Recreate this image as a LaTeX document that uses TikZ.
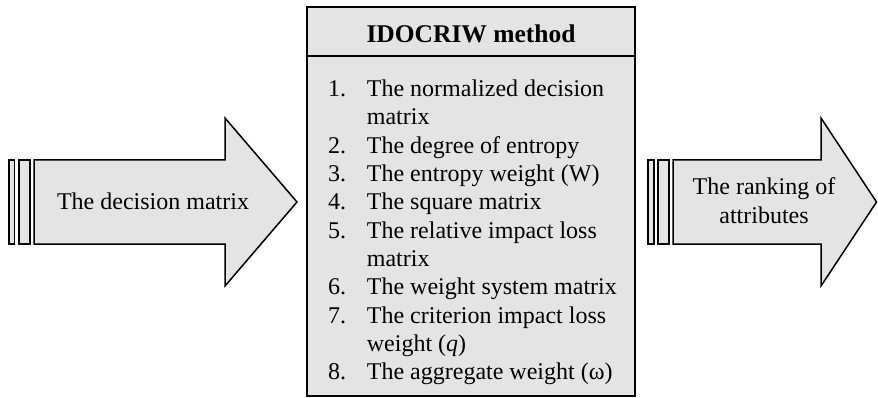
\documentclass[tikz,border=0pt]{standalone}
\usepackage{fontspec}
\setmainfont{Liberation Serif}
\definecolor{panel}{RGB}{228,228,228}
\begin{document}
\begin{tikzpicture}[x=1pt,y=-1pt,line join=miter,
  shapebox/.style={draw=black,fill=panel,line width=1.5pt},
  bodytext/.style={font=\fontsize{24}{28.3}\selectfont,inner sep=0pt}]
\useasboundingbox (0,0) rectangle (878,398);

% input arrow with its two tail bars
\draw[shapebox] (9,160) rectangle (14.7,244);
\draw[shapebox] (19,160) rectangle (30,244);
\draw[shapebox] (34,160) -- (225,160) -- (225,118) -- (297,202)
  -- (225,286) -- (225,244) -- (34,244) -- cycle;
\node[bodytext] (input) at (153,201) {The decision matrix};

% method panel
\draw[shapebox] (307,7) rectangle (635,396);
\coordinate (divL) at (307,56);
\coordinate (divR) at (635,56);
\draw[line width=1.5pt] (divL) -- (divR);
\node[font=\fontsize{25.5}{30}\selectfont\bfseries,anchor=base,inner sep=0pt]
  (title) at (471,43) {IDOCRIW method};
\node[bodytext,anchor=base west] (steps) at (328,96.7) {%
  \begin{tabular}[t]{@{}p{38.7pt}@{}l@{}}
  1. & The normalized decision\\
     & matrix\\
  2. & The degree of entropy\\
  3. & The entropy weight (W)\\
  4. & The square matrix\\
  5. & The relative impact loss\\
     & matrix\\
  6. & The weight system matrix\\
  7. & The criterion impact loss\\
     & weight (\textit{q})\\
  8. & The aggregate weight (ω)
  \end{tabular}};

% output arrow with its two tail bars
\draw[shapebox] (648,160) rectangle (654,244);
\draw[shapebox] (658,160) rectangle (669,244);
\draw[shapebox] (673,160) -- (821,160) -- (821,118) -- (876.5,202)
  -- (821,286) -- (821,244) -- (673,244) -- cycle;
\node[bodytext,anchor=base] (output) at (764,195) {%
  \begin{tabular}[t]{@{}c@{}}The ranking of\\ attributes\end{tabular}};
\end{tikzpicture}
\end{document}
